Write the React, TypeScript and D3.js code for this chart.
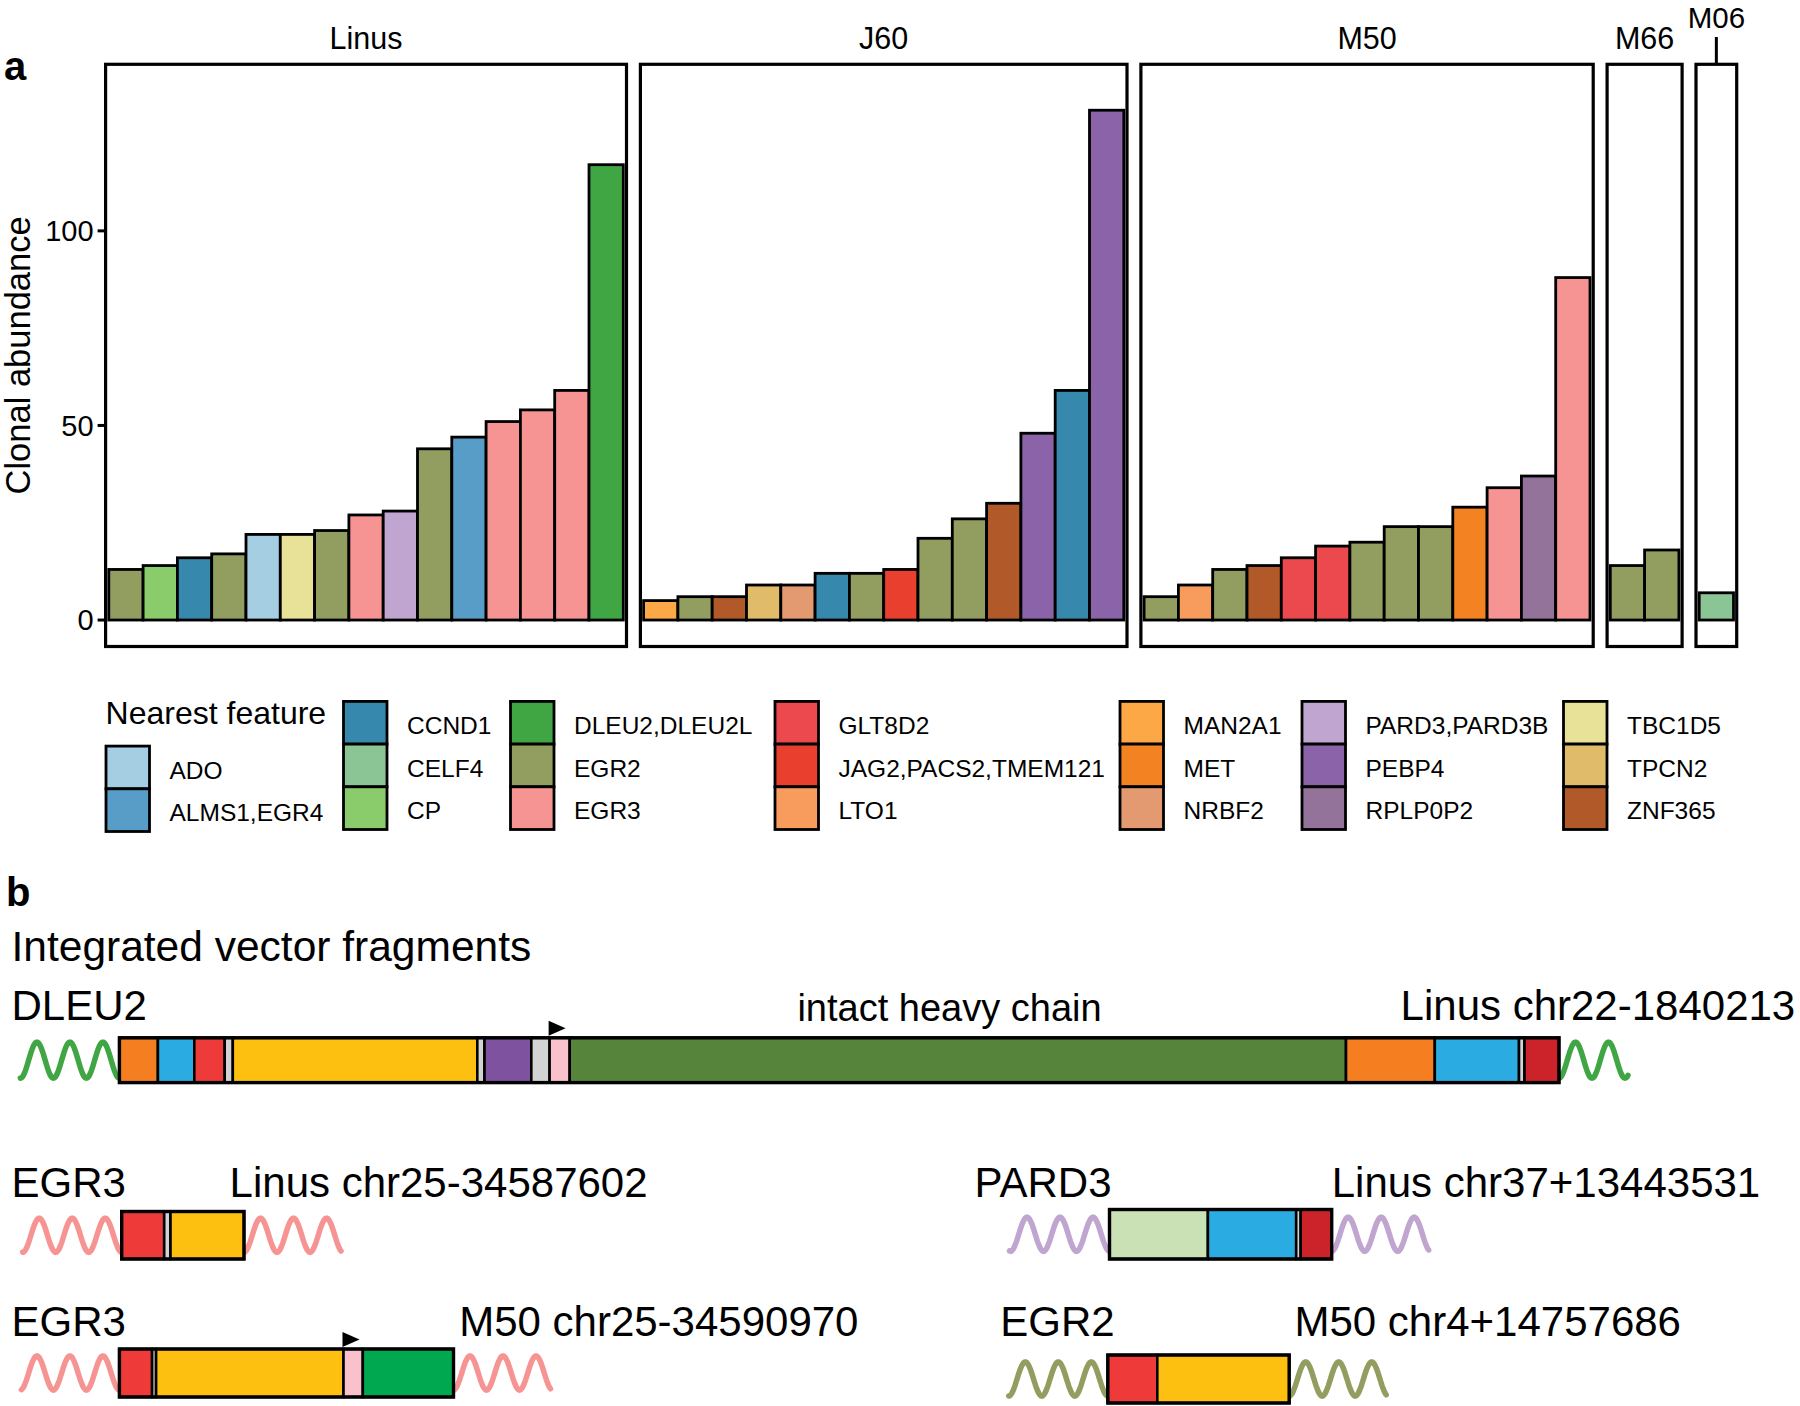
import React from "react";
import * as d3 from "d3";

// ---------- Panel a data ----------
const panelNames = ["Linus", "J60", "M50", "M66", "M06"];

const linusFeatures = ["EGR2", "CP", "CCND1", "EGR2", "ADO", "TBC1D5", "EGR2", "EGR3", "PARD3,PARD3B", "EGR2", "ALMS1,EGR4", "EGR3", "EGR3", "EGR3", "DLEU2,DLEU2L"];
const linusValues = [13, 14, 16, 17, 22, 22, 23, 27, 28, 44, 47, 51, 54, 59, 117];

const j60Features = ["MAN2A1", "EGR2", "ZNF365", "TPCN2", "NRBF2", "CCND1", "EGR2", "JAG2,PACS2,TMEM121", "EGR2", "EGR2", "ZNF365", "PEBP4", "CCND1", "PEBP4"];
const j60Values = [5, 6, 6, 9, 9, 12, 12, 13, 21, 26, 30, 48, 59, 131];

const m50Features = ["EGR2", "LTO1", "EGR2", "ZNF365", "GLT8D2", "GLT8D2", "EGR2", "EGR2", "EGR2", "MET", "EGR3", "RPLP0P2", "EGR3"];
const m50Values = [6, 9, 13, 14, 16, 19, 20, 24, 24, 29, 34, 37, 88];

const m66Features = ["EGR2", "EGR2"];
const m66Values = [14, 18];

const m06Features = ["CELF4"];
const m06Values = [7];

const yTicks = [0, 50, 100];
const yDomain = [-6.8, 142.8];
const yTitle = "Clonal abundance";

const legendTitle = "Nearest feature";
const featureNames = ["ADO", "ALMS1,EGR4", "CCND1", "CELF4", "CP", "DLEU2,DLEU2L", "EGR2", "EGR3", "GLT8D2", "JAG2,PACS2,TMEM121", "LTO1", "MAN2A1", "MET", "NRBF2", "PARD3,PARD3B", "PEBP4", "RPLP0P2", "TBC1D5", "TPCN2", "ZNF365"];
const featureColors = ["#A6CEE3", "#589CC8", "#3688AD", "#8BC495", "#8ACB6C", "#40A643", "#929D60", "#F69493", "#EB494D", "#E83F2F", "#F89C5E", "#FCA847", "#F38222", "#E49A70", "#C0A5D0", "#8A63A9", "#94739B", "#E8E198", "#E0BB6A", "#B15928"];

// ---------- Panel b data ----------
const partColors: Record<string, string> = {
  orange: "#F47E20", blue: "#2AACE2", red: "#EE3B3A", grey: "#D3D3D3", yellow: "#FDC011",
  purple: "#7F52A0", pink: "#F8C1CC", darkgreen: "#55843A", darkred: "#CC2229",
  lightgreen: "#C9E1B5", green: "#00A94F",
};

const dleu2Parts = ["orange", "blue", "red", "grey", "yellow", "grey", "purple", "grey", "pink", "darkgreen", "orange", "blue", "grey", "darkred"];
const dleu2Lengths = [38.5, 36.4, 30.4, 8.1, 244.5, 7.2, 46.8, 18.3, 20.1, 776.3, 88.8, 84.2, 5.5, 34.5];

const egr3LinusParts = ["red", "grey", "yellow"];
const egr3LinusLengths = [42.5, 6.3, 73.5];

const egr3M50Parts = ["red", "grey", "yellow", "pink", "green"];
const egr3M50Lengths = [32.7, 4, 187.4, 19.3, 90.7];

const pard3Parts = ["lightgreen", "blue", "grey", "darkred"];
const pard3Lengths = [98.4, 88.3, 4.5, 31];

const egr2Parts = ["red", "yellow"];
const egr2Lengths = [49.5, 131.9];

const FONT = "'Liberation Sans', Arial, Helvetica, sans-serif";

export default function App() {
  const colorOf = d3.scaleOrdinal<string, string>().domain(featureNames).range(featureColors);

  // ----- panel a layout -----
  const unit = 34.3;
  const pad = 0.0933;
  const gap = 13.9;
  const left0 = 105.6;
  const yTop = 64.3;
  const yBot = 646.5;
  const y = d3.scaleLinear().domain(yDomain).range([yBot, yTop]);

  const panelFeatures = [linusFeatures, j60Features, m50Features, m66Features, m06Features];
  const panelValues = [linusValues, j60Values, m50Values, m66Values, m06Values];

  let cursor = left0;
  const panels = panelNames.map((name, pi) => {
    const vals = panelValues[pi];
    const w = unit * (vals.length + 2 * pad);
    const xs = d3.scaleBand<number>().domain(d3.range(vals.length)).range([cursor, cursor + w]).paddingInner(0).paddingOuter(pad);
    const p = { name, vals, feats: panelFeatures[pi], x: cursor, w, xs };
    cursor += w + gap;
    return p;
  });

  // ----- legend layout -----
  const keyW = 43.5;
  const keyH = 42.7;
  const legendColX = [106, 343.5, 510.5, 775, 1120, 1302, 1563.5];
  const legendRowY = 701.4;
  const legendItems = featureNames.map((name, i) => {
    let col: number, row: number, off = 0;
    if (i < 2) { col = 0; row = i + 1; off = 2; } else { col = Math.floor((i - 2) / 3) + 1; row = (i - 2) % 3; }
    return { name, x: legendColX[col], y: legendRowY + row * keyH + off };
  });

  // ----- panel b -----
  const bx = d3.scaleLinear().domain([0, 1]).range([0, 1]);
  const constructs = [
    { parts: dleu2Parts, lens: dleu2Lengths, x: 119.4, y0: 1037.8, h: 44.8, wave: colorOf("DLEU2,DLEU2L"), wl: 99.4, wr: 69, amp: 18, arrowAt: 8 },
    { parts: egr3LinusParts, lens: egr3LinusLengths, x: 121.7, y0: 1211.5, h: 47.5, wave: colorOf("EGR3"), wl: 99, wr: 97.5, amp: 17, arrowAt: -1 },
    { parts: egr3M50Parts, lens: egr3M50Lengths, x: 119.4, y0: 1349, h: 48, wave: colorOf("EGR3"), wl: 98, wr: 97, amp: 17, arrowAt: 3 },
    { parts: pard3Parts, lens: pard3Lengths, x: 1109.5, y0: 1209.5, h: 49.5, wave: colorOf("PARD3,PARD3B"), wl: 100, wr: 97, amp: 17, arrowAt: -1 },
    { parts: egr2Parts, lens: egr2Lengths, x: 1107.8, y0: 1355, h: 48, wave: colorOf("EGR2"), wl: 99, wr: 97.5, amp: 17, arrowAt: -1 },
  ];
  const period = 33;
  const line = d3.line<[number, number]>().curve(d3.curveLinear);
  const wavePath = (edge: number, dir: number, len: number, cy: number, amp: number) => {
    const pts: [number, number][] = d3.range(0, len + 0.5, 1).map((d) => [edge + dir * d, cy + amp * Math.cos((2 * Math.PI * d) / period)]);
    return line(pts) || "";
  };

  const bText = [
    { t: "DLEU2", x: 11.5, y: 1020, a: "start" },
    { t: "intact heavy chain", x: 949.5, y: 1021, a: "middle", s: 38 },
    { t: "Linus chr22-1840213", x: 1400.6, y: 1020, a: "start" },
    { t: "EGR3", x: 11.5, y: 1197, a: "start" },
    { t: "Linus chr25-34587602", x: 229.6, y: 1197, a: "start" },
    { t: "EGR3", x: 11.5, y: 1336, a: "start" },
    { t: "M50 chr25-34590970", x: 459.2, y: 1336, a: "start" },
    { t: "PARD3", x: 974.6, y: 1197, a: "start" },
    { t: "Linus chr37+13443531", x: 1331.7, y: 1197, a: "start" },
    { t: "EGR2", x: 1000.3, y: 1336, a: "start" },
    { t: "M50 chr4+14757686", x: 1294.5, y: 1336, a: "start" },
  ];

  return (
    <svg width={1800} height={1406} style={{ position: "absolute", left: 0, top: 0, display: "block", background: "#fff" }} fontFamily={FONT}>
      <rect x={0} y={0} width={1800} height={1406} fill="#fff" />
      {/* panel label a */}
      <text x={4} y={80} fontSize={40} fontWeight="bold">a</text>

      {/* y axis title */}
      <text transform={`translate(30,${(yTop + yBot) / 2}) rotate(-90)`} textAnchor="middle" fontSize={34.5}>{yTitle}</text>

      {/* y ticks */}
      {yTicks.map((t) => (
        <g key={t}>
          <line x1={left0 - 8} x2={left0} y1={y(t)} y2={y(t)} stroke="#000" strokeWidth={3} />
          <text x={left0 - 12} y={y(t)} dy="0.36em" textAnchor="end" fontSize={29}>{t}</text>
        </g>
      ))}

      {/* panels */}
      {panels.map((p) => (
        <g key={p.name}>
          {p.vals.map((v, i) => (
            <rect key={i} x={p.xs(i)} width={p.xs.bandwidth()} y={y(v)} height={y(0) - y(v)}
              fill={colorOf(p.feats[i])} stroke="#000" strokeWidth={2.8} />
          ))}
          <rect x={p.x} y={yTop} width={p.w} height={yBot - yTop} fill="none" stroke="#000" strokeWidth={3.2} />
          {p.name === "M06" ? (
            <g>
              <line x1={p.x + p.w / 2} x2={p.x + p.w / 2} y1={37} y2={yTop} stroke="#000" strokeWidth={3} />
              <text x={p.x + p.w / 2} y={28} textAnchor="middle" fontSize={29.5}>{p.name}</text>
            </g>
          ) : (
            <text x={p.x + p.w / 2} y={48.5} textAnchor="middle" fontSize={30.5}>{p.name}</text>
          )}
        </g>
      ))}

      {/* legend */}
      <text x={105.6} y={724} fontSize={32}>{legendTitle}</text>
      {legendItems.map((it) => (
        <g key={it.name}>
          <rect x={it.x} y={it.y} width={keyW} height={keyH} fill={colorOf(it.name)} stroke="#000" strokeWidth={2.8} />
          <text x={it.x + 63.5} y={it.y + keyH / 2 + 2.5} dy="0.36em" fontSize={24.5}>{it.name}</text>
        </g>
      ))}

      {/* panel b */}
      <text x={6} y={906} fontSize={40} fontWeight="bold">b</text>
      <text x={11.5} y={961} fontSize={42.5}>Integrated vector fragments</text>
      {bText.map((t, i) => (
        <text key={i} x={t.x} y={t.y} fontSize={t.s || 42} textAnchor={t.a as any}>{t.t}</text>
      ))}

      {constructs.map((c, ci) => {
        const cum = [0, ...d3.cumsum(c.lens)];
        const total = cum[cum.length - 1];
        const cy = c.y0 + c.h / 2;
        const xAt = (u: number) => c.x + bx(u);
        return (
          <g key={ci}>
            <path d={wavePath(xAt(0), -1, c.wl, cy, c.amp)} fill="none" stroke={c.wave} strokeWidth={5.5} strokeLinecap="round" />
            <path d={wavePath(xAt(total), 1, c.wr, cy, c.amp)} fill="none" stroke={c.wave} strokeWidth={5.5} strokeLinecap="round" />
            {c.parts.map((part, k) => (
              <rect key={k} x={xAt(cum[k])} y={c.y0} width={bx(c.lens[k])} height={c.h}
                fill={partColors[part]} stroke="#000" strokeWidth={2.6} />
            ))}
            <rect x={xAt(0)} y={c.y0} width={bx(total)} height={c.h} fill="none" stroke="#000" strokeWidth={3.4} />
            {c.arrowAt >= 0 && (
              <path d={`M${xAt(cum[c.arrowAt]) - 1},${c.y0 - 17} L${xAt(cum[c.arrowAt]) + 16},${c.y0 - 9.5} L${xAt(cum[c.arrowAt]) - 1},${c.y0 - 2} Z`} fill="#000" />
            )}
          </g>
        );
      })}
    </svg>
  );
}
